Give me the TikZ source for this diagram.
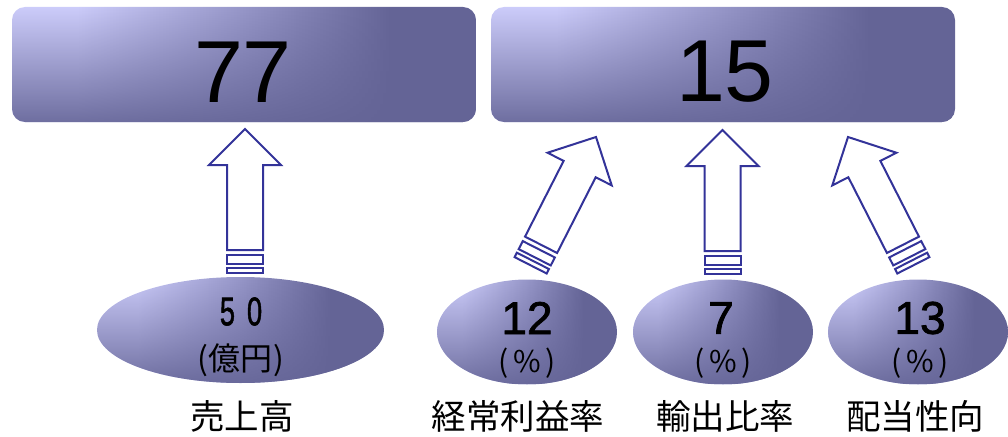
\documentclass[tikz,border=0pt]{standalone}
\usepackage{fontspec}
\setmainfont{Liberation Sans}
\newfontfamily\numfont{Liberation Sans}[FakeBold=1.6]
\newfontfamily\cjk{Noto Sans CJK JP}
\usetikzlibrary{fadings,shapes.geometric}
\definecolor{lightc}{RGB}{204,204,250}
\definecolor{midc}{RGB}{150,150,200}
\definecolor{darkc}{RGB}{100,100,150}
\definecolor{arrowc}{RGB}{51,51,153}
\pgfdeclarehorizontalshading{hshade}{100bp}{color(0bp)=(lightc); color(25bp)=(lightc); color(32bp)=(lightc); color(50bp)=(midc); color(66bp)=(darkc); color(100bp)=(darkc)}
\tikzfading[name=botfade, top color=transparent!100, middle color=transparent!100, bottom color=transparent!10]
\tikzset{
  overlay dark/.style={path picture={\fill[darkc, path fading=botfade] (path picture bounding box.south west) rectangle (path picture bounding box.north east);}},
  topbox/.style={rounded corners=13pt, shading=hshade, overlay dark, minimum width=464pt, minimum height=115pt, inner sep=0pt},
  ellbox/.style={ellipse, shading=hshade, overlay dark, inner sep=0pt},
  bignum/.style={font=\fontsize{88}{88}\selectfont},
  midnum/.style={font=\numfont\fontsize{46}{46}\selectfont},
  unit/.style={font=\cjk\fontsize{30}{30}\selectfont},
  label/.style={font=\cjk\fontsize{34.5}{34.5}\selectfont},
  arrowline/.style={draw=arrowc, fill=white, line width=2pt, line join=miter},
  blockarrow/.pic={
    \draw[arrowline] (0,0) -- (36,36) -- (18,36) -- (18,121) -- (-18,121) -- (-18,36) -- (-36,36) -- cycle;
    \draw[arrowline] (-18,126) rectangle (18,135);
    \draw[arrowline] (-18,139) rectangle (18,144);
  }
}
\begin{document}
\begin{tikzpicture}[x=1pt,y=-1pt]
\useasboundingbox (0,0) rectangle (1008,436);
% top boxes
\node[topbox] (box1) at (244,64.5) {};
\node[topbox] (box2) at (723,64.5) {};
\node[bignum] (n77) at (243,72) {77};
\node[bignum] (n15) at (725,72) {15};
% ellipses
\node[ellbox, minimum width=287pt, minimum height=106pt] (e1) at (240.5,330) {};
\node[ellbox, minimum width=180pt, minimum height=105pt] (e2) at (527,332) {};
\node[ellbox, minimum width=180pt, minimum height=105pt] (e3) at (723,332) {};
\node[ellbox, minimum width=180pt, minimum height=105pt] (e4) at (918,332) {};
% arrows
\pic at (245,129) {blockarrow};
\pic[rotate=-27] at (596,137) {blockarrow};
\pic at (722.5,130) {blockarrow};
\pic[rotate=27] at (848,137) {blockarrow};
% ellipse texts
\node[font=\numfont\fontsize{40}{40}\selectfont] (v1) at (241,311.5) {\scalebox{0.68}[1]{5}\hspace{12pt}\scalebox{0.68}[1]{0}};
\node[font=\cjk\fontsize{32}{32}\selectfont] (u1) at (241,360) {(\hspace{1pt}億円\hspace{1pt})};
\node[midnum] (v2) at (527,318) {12};
\node[midnum] (v3) at (721,318) {7};
\node[midnum] (v4) at (920,318) {13};
\node[unit] (u2) at (527,363) {(\hspace{5pt}\%\hspace{5pt})};
\node[unit] (u3) at (723,363) {(\hspace{5pt}\%\hspace{5pt})};
\node[unit] (u4) at (920,363) {(\hspace{5pt}\%\hspace{5pt})};
% labels
\node[label] (l1) at (242,416) {売上高};
\node[label] (l2) at (518,416) {経常利益率};
\node[label] (l3) at (725,416) {輸出比率};
\node[label] (l4) at (915,416) {配当性向};
\end{tikzpicture}
\end{document}
